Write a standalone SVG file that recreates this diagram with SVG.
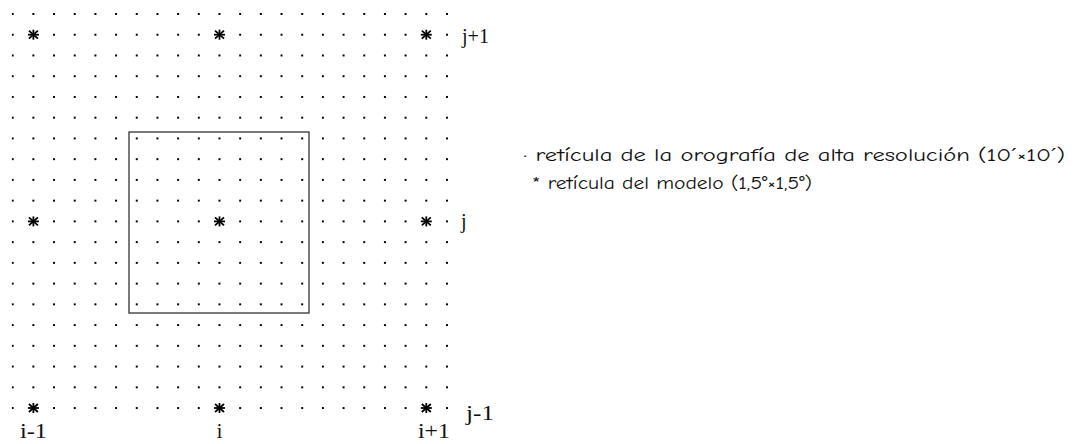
<svg xmlns="http://www.w3.org/2000/svg" width="1077" height="444" viewBox="0 0 1077 444">
  <style>
    .lbl { font-family: "Liberation Serif", "Times New Roman", serif; font-size: 20px; fill: #111; }
    .leg { font-family: "Comic Sans MS", "Comic Neue", "DejaVu Sans", sans-serif; font-size: 18px; fill: #111; }
    .star line { stroke: #000; stroke-width: 1.8; stroke-linecap: butt; }
  </style>
  <defs>
    <pattern id="dots" x="11.7" y="13" width="20.68" height="20.74" patternUnits="userSpaceOnUse">
      <rect x="0" y="0" width="2.2" height="2.2" fill="#000" shape-rendering="crispEdges"/>
    </pattern>
    <g id="star" class="star">
      <rect x="-1.5" y="-1.5" width="3" height="3" fill="#fff"/>
      <line x1="0" y1="-5" x2="0" y2="5"/>
      <line x1="-5.5" y1="0" x2="5.5" y2="0"/>
      <line x1="-4.5" y1="-4" x2="4.5" y2="4"/>
      <line x1="-4.5" y1="4" x2="4.5" y2="-4"/>
    </g>
  </defs>
  <rect width="1077" height="444" fill="#fff"/>

  <g id="grid">
    <rect x="11.7" y="13" width="438" height="398" fill="url(#dots)"/>
  </g>

  <g id="box">
    <rect x="129" y="132" width="180" height="181" fill="none" stroke="#333" stroke-width="1.3"/>
  </g>

  <g id="model-points">
    <use href="#star" x="33.4" y="34.7"/>
    <use href="#star" x="219.5" y="34.7"/>
    <use href="#star" x="426.3" y="34.7"/>
    <use href="#star" x="33.4" y="221.4"/>
    <use href="#star" x="219.5" y="221.4"/>
    <use href="#star" x="426.3" y="221.4"/>
    <use href="#star" x="33.4" y="408"/>
    <use href="#star" x="219.5" y="408"/>
    <use href="#star" x="426.3" y="408"/>
  </g>

  <g id="labels">
    <text class="lbl" x="462" y="43" textLength="27" lengthAdjust="spacingAndGlyphs">j+1</text>
    <text class="lbl" x="461" y="228">j</text>
    <text class="lbl" x="466" y="420" textLength="28" lengthAdjust="spacingAndGlyphs">j-1</text>
    <text class="lbl" x="20" y="438" textLength="27" lengthAdjust="spacingAndGlyphs">i-1</text>
    <text class="lbl" x="219.5" y="438" text-anchor="middle">i</text>
    <text class="lbl" x="418" y="438" textLength="32" lengthAdjust="spacingAndGlyphs">i+1</text>
  </g>

  <g id="legend">
    <text class="leg" x="523" y="161" textLength="542" lengthAdjust="spacingAndGlyphs">· retícula de la orografía de alta resolución (10′×10′)</text>
    <text class="leg" x="532" y="189" textLength="280" lengthAdjust="spacingAndGlyphs">* retícula del modelo (1,5°×1,5°)</text>
  </g>
</svg>
